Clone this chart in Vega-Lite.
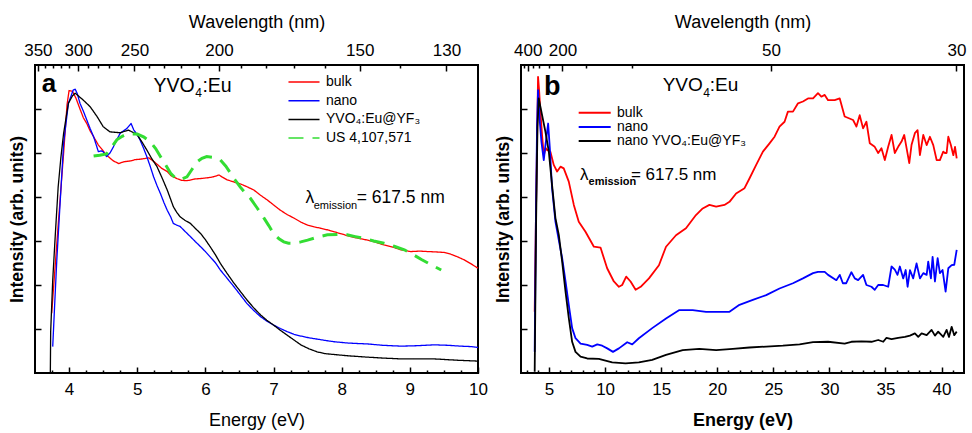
{
  "$schema": "https://vega.github.io/schema/vega-lite/v6.json",
  "padding": {"left": 7, "top": 12, "right": 0, "bottom": 0},
  "spacing": 4,
  "config": {
    "font": "Liberation Sans",
    "view": {"stroke": "black", "strokeWidth": 2},
    "axis": {"domain": false, "grid": false, "tickColor": "black", "tickWidth": 1.5, "labelColor": "black", "titleColor": "black", "labelFontSize": 17, "titleFontSize": 18, "titleFontWeight": "normal", "labelFlush": false, "labelOverlap": false},
    "legend": {"labelFontSize": 14, "labelColor": "black", "padding": 0}
  },
  "resolve": {"scale": {"color": "independent", "strokeDash": "independent"}},
  "hconcat": [
    {
      "width": 443, "height": 308,
      "resolve": {"axis": {"x": "independent"}},
      "layer": [
        {
          "layer": [
            {
              "data": {"values": [
                {"s":"bulk","E":3.745,"I":1.36},{"s":"bulk","E":3.84,"I":3.36},{"s":"bulk","E":3.92,"I":5.0},{"s":"bulk","E":3.97,"I":6.1},{"s":"bulk","E":4.0,"I":6.42},{"s":"bulk","E":4.05,"I":6.4},{"s":"bulk","E":4.1,"I":6.25},{"s":"bulk","E":4.16,"I":6.0},{"s":"bulk","E":4.21,"I":5.8},{"s":"bulk","E":4.26,"I":5.67},{"s":"bulk","E":4.31,"I":5.5},{"s":"bulk","E":4.36,"I":5.37},{"s":"bulk","E":4.43,"I":5.18},{"s":"bulk","E":4.5,"I":5.05},{"s":"bulk","E":4.55,"I":4.95},{"s":"bulk","E":4.65,"I":4.82},{"s":"bulk","E":4.73,"I":4.76},{"s":"bulk","E":4.8,"I":4.8},{"s":"bulk","E":4.9,"I":4.82},{"s":"bulk","E":4.97,"I":4.85},{"s":"bulk","E":5.05,"I":4.86},{"s":"bulk","E":5.17,"I":4.89},{"s":"bulk","E":5.25,"I":4.8},{"s":"bulk","E":5.36,"I":4.65},{"s":"bulk","E":5.44,"I":4.58},{"s":"bulk","E":5.5,"I":4.48},{"s":"bulk","E":5.58,"I":4.42},{"s":"bulk","E":5.65,"I":4.38},{"s":"bulk","E":5.73,"I":4.37},{"s":"bulk","E":5.85,"I":4.41},{"s":"bulk","E":5.93,"I":4.42},{"s":"bulk","E":6.05,"I":4.44},{"s":"bulk","E":6.12,"I":4.46},{"s":"bulk","E":6.2,"I":4.5},{"s":"bulk","E":6.25,"I":4.45},{"s":"bulk","E":6.32,"I":4.39},{"s":"bulk","E":6.42,"I":4.34},{"s":"bulk","E":6.51,"I":4.3},{"s":"bulk","E":6.6,"I":4.24},{"s":"bulk","E":6.71,"I":4.16},{"s":"bulk","E":6.8,"I":4.05},{"s":"bulk","E":6.91,"I":3.93},{"s":"bulk","E":7.0,"I":3.82},{"s":"bulk","E":7.1,"I":3.7},{"s":"bulk","E":7.2,"I":3.6},{"s":"bulk","E":7.3,"I":3.52},{"s":"bulk","E":7.4,"I":3.43},{"s":"bulk","E":7.5,"I":3.36},{"s":"bulk","E":7.6,"I":3.32},{"s":"bulk","E":7.69,"I":3.29},{"s":"bulk","E":7.8,"I":3.25},{"s":"bulk","E":7.89,"I":3.21},{"s":"bulk","E":8.0,"I":3.16},{"s":"bulk","E":8.13,"I":3.1},{"s":"bulk","E":8.25,"I":3.06},{"s":"bulk","E":8.38,"I":3.02},{"s":"bulk","E":8.5,"I":2.97},{"s":"bulk","E":8.62,"I":2.91},{"s":"bulk","E":8.75,"I":2.86},{"s":"bulk","E":8.87,"I":2.8},{"s":"bulk","E":9.01,"I":2.76},{"s":"bulk","E":9.15,"I":2.77},{"s":"bulk","E":9.26,"I":2.76},{"s":"bulk","E":9.4,"I":2.75},{"s":"bulk","E":9.5,"I":2.74},{"s":"bulk","E":9.6,"I":2.7},{"s":"bulk","E":9.7,"I":2.64},{"s":"bulk","E":9.8,"I":2.57},{"s":"bulk","E":9.9,"I":2.48},{"s":"bulk","E":10.0,"I":2.38},
                {"s":"nano","E":3.76,"I":0.6},{"s":"nano","E":3.79,"I":1.6},{"s":"nano","E":3.82,"I":2.57},{"s":"nano","E":3.87,"I":3.9},{"s":"nano","E":3.92,"I":5.22},{"s":"nano","E":3.99,"I":6.13},{"s":"nano","E":4.06,"I":6.43},{"s":"nano","E":4.09,"I":6.45},{"s":"nano","E":4.12,"I":6.35},{"s":"nano","E":4.16,"I":6.13},{"s":"nano","E":4.21,"I":5.95},{"s":"nano","E":4.26,"I":5.75},{"s":"nano","E":4.31,"I":5.55},{"s":"nano","E":4.36,"I":5.37},{"s":"nano","E":4.43,"I":5.03},{"s":"nano","E":4.47,"I":5.05},{"s":"nano","E":4.5,"I":5.03},{"s":"nano","E":4.55,"I":4.92},{"s":"nano","E":4.6,"I":5.0},{"s":"nano","E":4.65,"I":5.14},{"s":"nano","E":4.7,"I":5.3},{"s":"nano","E":4.75,"I":5.45},{"s":"nano","E":4.85,"I":5.56},{"s":"nano","E":4.91,"I":5.67},{"s":"nano","E":4.95,"I":5.52},{"s":"nano","E":5.0,"I":5.42},{"s":"nano","E":5.04,"I":5.3},{"s":"nano","E":5.09,"I":5.12},{"s":"nano","E":5.14,"I":4.92},{"s":"nano","E":5.19,"I":4.7},{"s":"nano","E":5.24,"I":4.46},{"s":"nano","E":5.29,"I":4.26},{"s":"nano","E":5.34,"I":4.08},{"s":"nano","E":5.39,"I":3.88},{"s":"nano","E":5.44,"I":3.7},{"s":"nano","E":5.49,"I":3.55},{"s":"nano","E":5.53,"I":3.4},{"s":"nano","E":5.58,"I":3.36},{"s":"nano","E":5.63,"I":3.33},{"s":"nano","E":5.7,"I":3.22},{"s":"nano","E":5.78,"I":3.1},{"s":"nano","E":5.85,"I":2.99},{"s":"nano","E":5.93,"I":2.87},{"s":"nano","E":6.0,"I":2.76},{"s":"nano","E":6.07,"I":2.64},{"s":"nano","E":6.15,"I":2.5},{"s":"nano","E":6.22,"I":2.34},{"s":"nano","E":6.32,"I":2.15},{"s":"nano","E":6.42,"I":1.96},{"s":"nano","E":6.52,"I":1.76},{"s":"nano","E":6.61,"I":1.58},{"s":"nano","E":6.71,"I":1.42},{"s":"nano","E":6.81,"I":1.28},{"s":"nano","E":6.9,"I":1.18},{"s":"nano","E":7.0,"I":1.09},{"s":"nano","E":7.1,"I":1.01},{"s":"nano","E":7.2,"I":0.94},{"s":"nano","E":7.3,"I":0.88},{"s":"nano","E":7.4,"I":0.84},{"s":"nano","E":7.52,"I":0.8},{"s":"nano","E":7.64,"I":0.77},{"s":"nano","E":7.76,"I":0.74},{"s":"nano","E":7.89,"I":0.71},{"s":"nano","E":8.1,"I":0.68},{"s":"nano","E":8.38,"I":0.66},{"s":"nano","E":8.6,"I":0.63},{"s":"nano","E":8.87,"I":0.61},{"s":"nano","E":9.1,"I":0.62},{"s":"nano","E":9.36,"I":0.64},{"s":"nano","E":9.55,"I":0.63},{"s":"nano","E":9.75,"I":0.61},{"s":"nano","E":9.9,"I":0.6},{"s":"nano","E":10.0,"I":0.58},
                {"s":"YVO₄:Eu@YF₃","E":3.725,"I":0.0},{"s":"YVO₄:Eu@YF₃","E":3.73,"I":0.94},{"s":"YVO₄:Eu@YF₃","E":3.76,"I":2.11},{"s":"YVO₄:Eu@YF₃","E":3.8,"I":3.2},{"s":"YVO₄:Eu@YF₃","E":3.84,"I":4.23},{"s":"YVO₄:Eu@YF₃","E":3.88,"I":4.9},{"s":"YVO₄:Eu@YF₃","E":3.92,"I":5.45},{"s":"YVO₄:Eu@YF₃","E":3.99,"I":6.13},{"s":"YVO₄:Eu@YF₃","E":4.05,"I":6.3},{"s":"YVO₄:Eu@YF₃","E":4.09,"I":6.36},{"s":"YVO₄:Eu@YF₃","E":4.15,"I":6.28},{"s":"YVO₄:Eu@YF₃","E":4.21,"I":6.2},{"s":"YVO₄:Eu@YF₃","E":4.31,"I":6.05},{"s":"YVO₄:Eu@YF₃","E":4.41,"I":5.83},{"s":"YVO₄:Eu@YF₃","E":4.5,"I":5.6},{"s":"YVO₄:Eu@YF₃","E":4.6,"I":5.48},{"s":"YVO₄:Eu@YF₃","E":4.68,"I":5.47},{"s":"YVO₄:Eu@YF₃","E":4.75,"I":5.46},{"s":"YVO₄:Eu@YF₃","E":4.87,"I":5.52},{"s":"YVO₄:Eu@YF₃","E":4.95,"I":5.46},{"s":"YVO₄:Eu@YF₃","E":5.0,"I":5.41},{"s":"YVO₄:Eu@YF₃","E":5.07,"I":5.25},{"s":"YVO₄:Eu@YF₃","E":5.14,"I":5.07},{"s":"YVO₄:Eu@YF₃","E":5.21,"I":4.88},{"s":"YVO₄:Eu@YF₃","E":5.29,"I":4.69},{"s":"YVO₄:Eu@YF₃","E":5.36,"I":4.45},{"s":"YVO₄:Eu@YF₃","E":5.44,"I":4.16},{"s":"YVO₄:Eu@YF₃","E":5.49,"I":3.95},{"s":"YVO₄:Eu@YF₃","E":5.53,"I":3.78},{"s":"YVO₄:Eu@YF₃","E":5.58,"I":3.65},{"s":"YVO₄:Eu@YF₃","E":5.63,"I":3.55},{"s":"YVO₄:Eu@YF₃","E":5.7,"I":3.47},{"s":"YVO₄:Eu@YF₃","E":5.78,"I":3.4},{"s":"YVO₄:Eu@YF₃","E":5.85,"I":3.29},{"s":"YVO₄:Eu@YF₃","E":5.93,"I":3.17},{"s":"YVO₄:Eu@YF₃","E":6.0,"I":3.03},{"s":"YVO₄:Eu@YF₃","E":6.07,"I":2.87},{"s":"YVO₄:Eu@YF₃","E":6.15,"I":2.68},{"s":"YVO₄:Eu@YF₃","E":6.22,"I":2.49},{"s":"YVO₄:Eu@YF₃","E":6.32,"I":2.26},{"s":"YVO₄:Eu@YF₃","E":6.42,"I":2.04},{"s":"YVO₄:Eu@YF₃","E":6.52,"I":1.84},{"s":"YVO₄:Eu@YF₃","E":6.61,"I":1.66},{"s":"YVO₄:Eu@YF₃","E":6.71,"I":1.48},{"s":"YVO₄:Eu@YF₃","E":6.81,"I":1.32},{"s":"YVO₄:Eu@YF₃","E":6.9,"I":1.2},{"s":"YVO₄:Eu@YF₃","E":7.0,"I":1.09},{"s":"YVO₄:Eu@YF₃","E":7.1,"I":0.97},{"s":"YVO₄:Eu@YF₃","E":7.2,"I":0.86},{"s":"YVO₄:Eu@YF₃","E":7.3,"I":0.75},{"s":"YVO₄:Eu@YF₃","E":7.4,"I":0.64},{"s":"YVO₄:Eu@YF₃","E":7.52,"I":0.55},{"s":"YVO₄:Eu@YF₃","E":7.64,"I":0.48},{"s":"YVO₄:Eu@YF₃","E":7.76,"I":0.44},{"s":"YVO₄:Eu@YF₃","E":7.89,"I":0.42},{"s":"YVO₄:Eu@YF₃","E":8.1,"I":0.39},{"s":"YVO₄:Eu@YF₃","E":8.38,"I":0.36},{"s":"YVO₄:Eu@YF₃","E":8.6,"I":0.34},{"s":"YVO₄:Eu@YF₃","E":8.87,"I":0.32},{"s":"YVO₄:Eu@YF₃","E":9.1,"I":0.32},{"s":"YVO₄:Eu@YF₃","E":9.36,"I":0.32},{"s":"YVO₄:Eu@YF₃","E":9.7,"I":0.29},{"s":"YVO₄:Eu@YF₃","E":10.0,"I":0.27}
              ]},
              "mark": {"type": "line", "strokeWidth": 1.3, "strokeJoin": "round"},
              "encoding": {
                "x": {"field": "E", "type": "quantitative", "scale": {"domain": [3.5, 10], "nice": false, "zero": false},
                      "axis": {"orient": "bottom", "values": [4,5,6,7,8,9,10], "format": "d", "tickSize": -6, "labelPadding": 14, "title": "Energy (eV)", "titlePadding": 14}},
                "y": {"field": "I", "type": "quantitative", "scale": {"domain": [0, 7], "nice": false},
                      "axis": {"orient": "left", "values": [1,2,3,4,5,6], "labels": false, "tickSize": -6, "title": "Intensity (arb. units)", "titleFontWeight": "bold", "titleFontSize": 17.5, "titlePadding": 8}},
                "color": {"field": "s", "type": "nominal",
                          "scale": {"domain": ["bulk","nano","YVO₄:Eu@YF₃","US 4,107,571"], "range": ["#ff0000","#0000ff","#000000","#33dd33"]},
                          "legend": {"orient": "none", "legendX": 262, "legendY": 10, "title": null, "symbolType": "M-3,0H3", "symbolSize": 107, "labelOffset": 15, "rowPadding": 4.7, "symbolStrokeWidth": 1.5}},
                "strokeDash": {"field": "s", "type": "nominal",
                          "scale": {"domain": ["bulk","nano","YVO₄:Eu@YF₃","US 4,107,571"], "range": [[1,0],[1,0],[1,0],[15,9]]},
                          "legend": {"orient": "none", "legendX": 262, "legendY": 10, "title": null, "symbolType": "M-3,0H3", "symbolSize": 107, "labelOffset": 15, "rowPadding": 4.7, "symbolStrokeWidth": 1.5}}
              }
            },
            {
              "data": {"values": [
                {"s":"US 4,107,571","E":4.36,"I":4.93},{"s":"US 4,107,571","E":4.45,"I":4.95},{"s":"US 4,107,571","E":4.55,"I":4.98},{"s":"US 4,107,571","E":4.62,"I":5.12},{"s":"US 4,107,571","E":4.7,"I":5.3},{"s":"US 4,107,571","E":4.78,"I":5.38},{"s":"US 4,107,571","E":4.85,"I":5.43},{"s":"US 4,107,571","E":5.0,"I":5.43},{"s":"US 4,107,571","E":5.1,"I":5.36},{"s":"US 4,107,571","E":5.19,"I":5.26},{"s":"US 4,107,571","E":5.27,"I":5.1},{"s":"US 4,107,571","E":5.34,"I":4.92},{"s":"US 4,107,571","E":5.42,"I":4.72},{"s":"US 4,107,571","E":5.49,"I":4.54},{"s":"US 4,107,571","E":5.56,"I":4.43},{"s":"US 4,107,571","E":5.63,"I":4.39},{"s":"US 4,107,571","E":5.73,"I":4.46},{"s":"US 4,107,571","E":5.8,"I":4.62},{"s":"US 4,107,571","E":5.88,"I":4.8},{"s":"US 4,107,571","E":5.95,"I":4.88},{"s":"US 4,107,571","E":6.02,"I":4.92},{"s":"US 4,107,571","E":6.12,"I":4.9},{"s":"US 4,107,571","E":6.22,"I":4.84},{"s":"US 4,107,571","E":6.3,"I":4.7},{"s":"US 4,107,571","E":6.37,"I":4.54},{"s":"US 4,107,571","E":6.44,"I":4.38},{"s":"US 4,107,571","E":6.51,"I":4.23},{"s":"US 4,107,571","E":6.58,"I":4.1},{"s":"US 4,107,571","E":6.66,"I":3.97},{"s":"US 4,107,571","E":6.76,"I":3.75},{"s":"US 4,107,571","E":6.86,"I":3.52},{"s":"US 4,107,571","E":6.93,"I":3.35},{"s":"US 4,107,571","E":7.0,"I":3.17},{"s":"US 4,107,571","E":7.08,"I":3.05},{"s":"US 4,107,571","E":7.15,"I":2.98},{"s":"US 4,107,571","E":7.22,"I":2.95},{"s":"US 4,107,571","E":7.3,"I":2.95},{"s":"US 4,107,571","E":7.4,"I":2.98},{"s":"US 4,107,571","E":7.5,"I":3.02},{"s":"US 4,107,571","E":7.65,"I":3.09},{"s":"US 4,107,571","E":7.79,"I":3.14},{"s":"US 4,107,571","E":7.94,"I":3.15},{"s":"US 4,107,571","E":8.08,"I":3.14},{"s":"US 4,107,571","E":8.2,"I":3.1},{"s":"US 4,107,571","E":8.33,"I":3.06},{"s":"US 4,107,571","E":8.47,"I":3.0},{"s":"US 4,107,571","E":8.62,"I":2.95},{"s":"US 4,107,571","E":8.77,"I":2.88},{"s":"US 4,107,571","E":8.92,"I":2.8},{"s":"US 4,107,571","E":9.05,"I":2.69},{"s":"US 4,107,571","E":9.17,"I":2.58},{"s":"US 4,107,571","E":9.3,"I":2.47},{"s":"US 4,107,571","E":9.46,"I":2.34}
              ]},
              "mark": {"type": "line", "strokeWidth": 3},
              "encoding": {
                "x": {"field": "E", "type": "quantitative", "scale": {"domain": [3.5, 10], "nice": false, "zero": false}},
                "y": {"field": "I", "type": "quantitative", "scale": {"domain": [0, 7], "nice": false}},
                "color": {"field": "s", "type": "nominal"},
                "strokeDash": {"field": "s", "type": "nominal"}
              }
            },
            {
              "data": {"values": [{"t": "YVO", "E": 5.24, "I": 6.39}, {"t": ":Eu", "E": 5.956, "I": 6.39}]},
              "mark": {"type": "text", "align": "left", "baseline": "alphabetic", "fontSize": 19.5, "color": "black"},
              "encoding": {"x": {"field": "E", "type": "quantitative"}, "y": {"field": "I", "type": "quantitative"}, "text": {"field": "t"}}
            },
            {
              "data": {"values": [{"t": "4", "E": 5.853, "I": 6.27}]},
              "mark": {"type": "text", "align": "left", "baseline": "alphabetic", "fontSize": 12, "color": "black"},
              "encoding": {"x": {"field": "E", "type": "quantitative"}, "y": {"field": "I", "type": "quantitative"}, "text": {"field": "t"}}
            },
            {
              "data": {"values": [{"t": "λ", "E": 7.47, "I": 3.86}, {"t": "= 617.5 nm", "E": 8.22, "I": 3.86}]},
              "mark": {"type": "text", "align": "left", "baseline": "alphabetic", "fontSize": 17.5, "color": "black"},
              "encoding": {"x": {"field": "E", "type": "quantitative"}, "y": {"field": "I", "type": "quantitative"}, "text": {"field": "t"}}
            },
            {
              "data": {"values": [{"t": "emission", "E": 7.59, "I": 3.73}]},
              "mark": {"type": "text", "align": "left", "baseline": "alphabetic", "fontSize": 11, "color": "black"},
              "encoding": {"x": {"field": "E", "type": "quantitative"}, "y": {"field": "I", "type": "quantitative"}, "text": {"field": "t"}}
            },
            {
              "data": {"values": [{"t": "a", "E": 3.6, "I": 6.38}]},
              "mark": {"type": "text", "align": "left", "baseline": "alphabetic", "fontSize": 26, "fontWeight": "bold", "color": "black"},
              "encoding": {"x": {"field": "E", "type": "quantitative"}, "y": {"field": "I", "type": "quantitative"}, "text": {"field": "t"}}
            }
          ]
        },
        {
          "data": {"values": [{}]},
          "mark": {"type": "point", "opacity": 0},
          "encoding": {"x": {"datum": 5, "type": "quantitative", "scale": {"domain": [3.5, 10], "nice": false, "zero": false},
            "axis": {"orient": "bottom", "values": [3.75,4.25,4.5,4.75,5.25,5.5,5.75,6.25,6.5,6.75,7.25,7.5,7.75,8.25,8.5,8.75,9.25,9.5,9.75], "tickSize": -3, "labels": false, "title": null}}}
        },
        {
          "data": {"values": [{}]},
          "mark": {"type": "point", "opacity": 0},
          "encoding": {"x": {"datum": 5, "type": "quantitative", "scale": {"domain": [3.5, 10], "nice": false, "zero": false},
            "axis": {"orient": "top", "values": [3.5424,4.1328,4.9594,6.1992,8.2656,9.5372], "labelExpr": "format(1239.84/datum.value, '.0f')", "tickSize": -6, "labelPadding": 12, "title": "Wavelength (nm)", "titlePadding": 10}}}
        },
        {
          "data": {"values": [{}]},
          "mark": {"type": "point", "opacity": 0},
          "encoding": {"x": {"datum": 5, "type": "quantitative", "scale": {"domain": [3.5, 10], "nice": false, "zero": false},
            "axis": {"orient": "top", "values": [3.6466,3.7571,3.8745,3.9995,4.2753,4.428,4.592,4.7686,5.166,5.3906,5.6356,5.904,6.5255,6.888,7.2932,7.749,8.856], "tickSize": -3, "labels": false, "title": null}}}
        }
      ]
    },
    {
      "width": 443, "height": 308,
      "resolve": {"axis": {"x": "independent"}},
      "layer": [
        {
          "layer": [
            {
              "data": {"values": [
                {"s":"bulk","E":3.72,"I":1.39},{"s":"bulk","E":3.85,"I":3.9},{"s":"bulk","E":4.02,"I":6.73},{"s":"bulk","E":4.12,"I":6.4},{"s":"bulk","E":4.23,"I":5.94},{"s":"bulk","E":4.38,"I":5.4},{"s":"bulk","E":4.53,"I":4.95},{"s":"bulk","E":4.7,"I":5.11},{"s":"bulk","E":4.82,"I":5.07},{"s":"bulk","E":5.12,"I":5.03},{"s":"bulk","E":5.42,"I":4.73},{"s":"bulk","E":5.72,"I":4.58},{"s":"bulk","E":6.02,"I":4.69},{"s":"bulk","E":6.31,"I":4.65},{"s":"bulk","E":6.76,"I":4.35},{"s":"bulk","E":7.21,"I":3.82},{"s":"bulk","E":7.65,"I":3.44},{"s":"bulk","E":8.25,"I":3.21},{"s":"bulk","E":9.0,"I":2.87},{"s":"bulk","E":9.59,"I":2.85},{"s":"bulk","E":10.18,"I":2.38},{"s":"bulk","E":10.78,"I":2.08},{"s":"bulk","E":11.23,"I":1.96},{"s":"bulk","E":11.52,"I":2.0},{"s":"bulk","E":11.88,"I":2.19},{"s":"bulk","E":12.27,"I":2.08},{"s":"bulk","E":12.72,"I":1.89},{"s":"bulk","E":13.17,"I":1.96},{"s":"bulk","E":13.91,"I":2.15},{"s":"bulk","E":14.8,"I":2.45},{"s":"bulk","E":15.43,"I":2.87},{"s":"bulk","E":16.32,"I":3.13},{"s":"bulk","E":17.21,"I":3.29},{"s":"bulk","E":18.1,"I":3.59},{"s":"bulk","E":18.7,"I":3.74},{"s":"bulk","E":19.3,"I":3.82},{"s":"bulk","E":19.9,"I":3.78},{"s":"bulk","E":20.64,"I":3.82},{"s":"bulk","E":21.09,"I":3.89},{"s":"bulk","E":21.68,"I":4.08},{"s":"bulk","E":22.43,"I":4.2},{"s":"bulk","E":22.87,"I":4.42},{"s":"bulk","E":23.47,"I":4.73},{"s":"bulk","E":24.07,"I":5.03},{"s":"bulk","E":24.66,"I":5.22},{"s":"bulk","E":25.11,"I":5.37},{"s":"bulk","E":25.55,"I":5.6},{"s":"bulk","E":26.0,"I":5.71},{"s":"bulk","E":26.3,"I":5.94},{"s":"bulk","E":26.75,"I":5.94},{"s":"bulk","E":27.2,"I":6.13},{"s":"bulk","E":27.64,"I":6.17},{"s":"bulk","E":28.09,"I":6.24},{"s":"bulk","E":28.54,"I":6.24},{"s":"bulk","E":28.98,"I":6.36},{"s":"bulk","E":29.28,"I":6.28},{"s":"bulk","E":29.58,"I":6.32},{"s":"bulk","E":29.88,"I":6.2},{"s":"bulk","E":30.47,"I":6.2},{"s":"bulk","E":30.92,"I":6.24},{"s":"bulk","E":31.36,"I":5.83},{"s":"bulk","E":32.11,"I":5.75},{"s":"bulk","E":32.41,"I":5.6},{"s":"bulk","E":32.7,"I":5.86},{"s":"bulk","E":33.0,"I":5.56},{"s":"bulk","E":33.3,"I":5.71},{"s":"bulk","E":33.6,"I":5.22},{"s":"bulk","E":34.04,"I":5.14},{"s":"bulk","E":34.35,"I":5.0},{"s":"bulk","E":34.64,"I":5.11},{"s":"bulk","E":34.94,"I":4.84},{"s":"bulk","E":35.24,"I":5.14},{"s":"bulk","E":35.54,"I":5.41},{"s":"bulk","E":35.83,"I":5.0},{"s":"bulk","E":36.13,"I":5.14},{"s":"bulk","E":36.43,"I":5.26},{"s":"bulk","E":36.67,"I":5.41},{"s":"bulk","E":36.88,"I":5.11},{"s":"bulk","E":37.12,"I":4.77},{"s":"bulk","E":37.32,"I":5.18},{"s":"bulk","E":37.62,"I":5.45},{"s":"bulk","E":37.86,"I":5.52},{"s":"bulk","E":38.07,"I":4.95},{"s":"bulk","E":38.37,"I":5.41},{"s":"bulk","E":38.67,"I":5.18},{"s":"bulk","E":38.96,"I":5.37},{"s":"bulk","E":39.26,"I":5.18},{"s":"bulk","E":39.56,"I":4.84},{"s":"bulk","E":39.85,"I":4.84},{"s":"bulk","E":40.15,"I":5.03},{"s":"bulk","E":40.3,"I":5.0},{"s":"bulk","E":40.45,"I":5.0},{"s":"bulk","E":40.6,"I":5.37},{"s":"bulk","E":40.83,"I":5.18},{"s":"bulk","E":41.05,"I":4.95},{"s":"bulk","E":41.2,"I":5.14},{"s":"bulk","E":41.35,"I":4.88},
                {"s":"nano","E":3.72,"I":0.48},{"s":"nano","E":3.82,"I":3.3},{"s":"nano","E":3.93,"I":5.6},{"s":"nano","E":4.02,"I":6.43},{"s":"nano","E":4.15,"I":5.8},{"s":"nano","E":4.32,"I":5.26},{"s":"nano","E":4.53,"I":4.84},{"s":"nano","E":4.68,"I":5.18},{"s":"nano","E":4.92,"I":5.67},{"s":"nano","E":5.07,"I":5.11},{"s":"nano","E":5.27,"I":4.2},{"s":"nano","E":5.57,"I":3.44},{"s":"nano","E":5.87,"I":3.02},{"s":"nano","E":6.17,"I":2.61},{"s":"nano","E":6.47,"I":2.08},{"s":"nano","E":6.76,"I":1.55},{"s":"nano","E":7.06,"I":1.02},{"s":"nano","E":7.36,"I":0.79},{"s":"nano","E":7.81,"I":0.67},{"s":"nano","E":8.4,"I":0.64},{"s":"nano","E":8.85,"I":0.6},{"s":"nano","E":9.3,"I":0.65},{"s":"nano","E":9.74,"I":0.62},{"s":"nano","E":10.19,"I":0.56},{"s":"nano","E":10.7,"I":0.48},{"s":"nano","E":11.23,"I":0.56},{"s":"nano","E":11.97,"I":0.7},{"s":"nano","E":12.42,"I":0.65},{"s":"nano","E":13.01,"I":0.79},{"s":"nano","E":14.2,"I":1.02},{"s":"nano","E":15.43,"I":1.24},{"s":"nano","E":16.62,"I":1.43},{"s":"nano","E":17.81,"I":1.43},{"s":"nano","E":19.0,"I":1.39},{"s":"nano","E":20.2,"I":1.39},{"s":"nano","E":21.09,"I":1.39},{"s":"nano","E":21.98,"I":1.55},{"s":"nano","E":23.17,"I":1.66},{"s":"nano","E":24.36,"I":1.77},{"s":"nano","E":25.55,"I":1.92},{"s":"nano","E":26.75,"I":2.04},{"s":"nano","E":27.64,"I":2.15},{"s":"nano","E":28.54,"I":2.27},{"s":"nano","E":28.98,"I":2.3},{"s":"nano","E":29.58,"I":2.3},{"s":"nano","E":29.88,"I":2.23},{"s":"nano","E":30.62,"I":2.11},{"s":"nano","E":30.92,"I":2.23},{"s":"nano","E":31.2,"I":2.04},{"s":"nano","E":31.5,"I":2.04},{"s":"nano","E":31.96,"I":2.29},{"s":"nano","E":32.26,"I":2.15},{"s":"nano","E":32.56,"I":2.11},{"s":"nano","E":33.0,"I":2.23},{"s":"nano","E":33.3,"I":2.0},{"s":"nano","E":33.75,"I":1.96},{"s":"nano","E":34.04,"I":1.89},{"s":"nano","E":34.35,"I":2.0},{"s":"nano","E":34.79,"I":2.0},{"s":"nano","E":35.24,"I":1.96},{"s":"nano","E":35.54,"I":2.42},{"s":"nano","E":35.83,"I":2.35},{"s":"nano","E":36.07,"I":2.23},{"s":"nano","E":36.28,"I":2.42},{"s":"nano","E":36.58,"I":2.15},{"s":"nano","E":36.8,"I":2.34},{"s":"nano","E":36.97,"I":1.96},{"s":"nano","E":37.18,"I":2.34},{"s":"nano","E":37.47,"I":2.15},{"s":"nano","E":37.77,"I":2.49},{"s":"nano","E":38.07,"I":2.15},{"s":"nano","E":38.37,"I":2.27},{"s":"nano","E":38.67,"I":2.23},{"s":"nano","E":38.81,"I":2.53},{"s":"nano","E":39.05,"I":2.15},{"s":"nano","E":39.2,"I":2.64},{"s":"nano","E":39.41,"I":2.08},{"s":"nano","E":39.65,"I":2.61},{"s":"nano","E":39.85,"I":2.27},{"s":"nano","E":40.09,"I":2.34},{"s":"nano","E":40.36,"I":1.85},{"s":"nano","E":40.6,"I":2.38},{"s":"nano","E":40.9,"I":2.45},{"s":"nano","E":41.13,"I":2.46},{"s":"nano","E":41.35,"I":2.8},
                {"s":"nano YVO₄:Eu@YF₃","E":3.72,"I":0.03},{"s":"nano YVO₄:Eu@YF₃","E":3.85,"I":3.5},{"s":"nano YVO₄:Eu@YF₃","E":3.97,"I":5.6},{"s":"nano YVO₄:Eu@YF₃","E":4.08,"I":6.24},{"s":"nano YVO₄:Eu@YF₃","E":4.38,"I":5.86},{"s":"nano YVO₄:Eu@YF₃","E":4.68,"I":5.48},{"s":"nano YVO₄:Eu@YF₃","E":4.98,"I":5.03},{"s":"nano YVO₄:Eu@YF₃","E":5.27,"I":4.27},{"s":"nano YVO₄:Eu@YF₃","E":5.57,"I":3.52},{"s":"nano YVO₄:Eu@YF₃","E":5.87,"I":3.14},{"s":"nano YVO₄:Eu@YF₃","E":6.17,"I":2.53},{"s":"nano YVO₄:Eu@YF₃","E":6.47,"I":1.85},{"s":"nano YVO₄:Eu@YF₃","E":6.76,"I":1.25},{"s":"nano YVO₄:Eu@YF₃","E":7.06,"I":0.71},{"s":"nano YVO₄:Eu@YF₃","E":7.36,"I":0.48},{"s":"nano YVO₄:Eu@YF₃","E":7.81,"I":0.37},{"s":"nano YVO₄:Eu@YF₃","E":8.4,"I":0.33},{"s":"nano YVO₄:Eu@YF₃","E":9.44,"I":0.32},{"s":"nano YVO₄:Eu@YF₃","E":10.63,"I":0.24},{"s":"nano YVO₄:Eu@YF₃","E":11.82,"I":0.22},{"s":"nano YVO₄:Eu@YF₃","E":13.01,"I":0.24},{"s":"nano YVO₄:Eu@YF₃","E":14.2,"I":0.3},{"s":"nano YVO₄:Eu@YF₃","E":15.43,"I":0.41},{"s":"nano YVO₄:Eu@YF₃","E":16.92,"I":0.52},{"s":"nano YVO₄:Eu@YF₃","E":18.4,"I":0.55},{"s":"nano YVO₄:Eu@YF₃","E":19.9,"I":0.52},{"s":"nano YVO₄:Eu@YF₃","E":21.39,"I":0.55},{"s":"nano YVO₄:Eu@YF₃","E":22.87,"I":0.58},{"s":"nano YVO₄:Eu@YF₃","E":24.36,"I":0.6},{"s":"nano YVO₄:Eu@YF₃","E":25.85,"I":0.62},{"s":"nano YVO₄:Eu@YF₃","E":27.34,"I":0.65},{"s":"nano YVO₄:Eu@YF₃","E":28.54,"I":0.7},{"s":"nano YVO₄:Eu@YF₃","E":29.88,"I":0.71},{"s":"nano YVO₄:Eu@YF₃","E":31.36,"I":0.67},{"s":"nano YVO₄:Eu@YF₃","E":31.96,"I":0.71},{"s":"nano YVO₄:Eu@YF₃","E":32.86,"I":0.72},{"s":"nano YVO₄:Eu@YF₃","E":33.75,"I":0.71},{"s":"nano YVO₄:Eu@YF₃","E":34.35,"I":0.75},{"s":"nano YVO₄:Eu@YF₃","E":34.8,"I":0.71},{"s":"nano YVO₄:Eu@YF₃","E":35.09,"I":0.8},{"s":"nano YVO₄:Eu@YF₃","E":35.54,"I":0.77},{"s":"nano YVO₄:Eu@YF₃","E":36.13,"I":0.8},{"s":"nano YVO₄:Eu@YF₃","E":36.73,"I":0.82},{"s":"nano YVO₄:Eu@YF₃","E":37.18,"I":0.85},{"s":"nano YVO₄:Eu@YF₃","E":37.62,"I":0.9},{"s":"nano YVO₄:Eu@YF₃","E":37.92,"I":0.82},{"s":"nano YVO₄:Eu@YF₃","E":38.22,"I":0.9},{"s":"nano YVO₄:Eu@YF₃","E":38.67,"I":0.86},{"s":"nano YVO₄:Eu@YF₃","E":39.11,"I":0.98},{"s":"nano YVO₄:Eu@YF₃","E":39.41,"I":0.85},{"s":"nano YVO₄:Eu@YF₃","E":39.7,"I":0.94},{"s":"nano YVO₄:Eu@YF₃","E":40.15,"I":0.82},{"s":"nano YVO₄:Eu@YF₃","E":40.45,"I":0.98},{"s":"nano YVO₄:Eu@YF₃","E":40.66,"I":0.82},{"s":"nano YVO₄:Eu@YF₃","E":40.9,"I":1.05},{"s":"nano YVO₄:Eu@YF₃","E":41.13,"I":0.86},{"s":"nano YVO₄:Eu@YF₃","E":41.35,"I":0.94}
              ]},
              "mark": {"type": "line", "strokeWidth": 1.8, "strokeJoin": "round"},
              "encoding": {
                "x": {"field": "E", "type": "quantitative", "scale": {"domain": [2.5, 42], "nice": false, "zero": false},
                      "axis": {"orient": "bottom", "values": [5,10,15,20,25,30,35,40], "format": "d", "tickSize": -6, "labelPadding": 14, "title": "Energy (eV)", "titleFontWeight": "bold", "titlePadding": 14}},
                "y": {"field": "I", "type": "quantitative", "scale": {"domain": [0, 7], "nice": false},
                      "axis": {"orient": "left", "values": [1,2,3,4,5,6], "labels": false, "tickSize": -6, "title": "Intensity (arb. units)", "titleFontWeight": "bold", "titleFontSize": 17.5, "titlePadding": 8}},
                "color": {"field": "s", "type": "nominal",
                          "scale": {"domain": ["bulk","nano","nano YVO₄:Eu@YF₃"], "range": ["#ff0000","#0000ff","#000000"]},
                          "legend": {"orient": "none", "legendX": 66.7, "legendY": 40.7, "title": null, "symbolType": "M-3,0H3", "symbolSize": 114, "labelOffset": 15.3, "rowPadding": 0.2, "symbolStrokeWidth": 2}}
              }
            },
            {
              "data": {"values": [{"t": "YVO", "E": 15.13, "I": 6.42}, {"t": ":Eu", "E": 19.33, "I": 6.42}]},
              "mark": {"type": "text", "align": "left", "baseline": "alphabetic", "fontSize": 19, "color": "black"},
              "encoding": {"x": {"field": "E", "type": "quantitative"}, "y": {"field": "I", "type": "quantitative"}, "text": {"field": "t"}}
            },
            {
              "data": {"values": [{"t": "4", "E": 18.74, "I": 6.27}]},
              "mark": {"type": "text", "align": "left", "baseline": "alphabetic", "fontSize": 12, "color": "black"},
              "encoding": {"x": {"field": "E", "type": "quantitative"}, "y": {"field": "I", "type": "quantitative"}, "text": {"field": "t"}}
            },
            {
              "data": {"values": [{"t": "λ", "E": 7.77, "I": 4.386}, {"t": "= 617.5 nm", "E": 12.3, "I": 4.386}]},
              "mark": {"type": "text", "align": "left", "baseline": "alphabetic", "fontSize": 17, "color": "black"},
              "encoding": {"x": {"field": "E", "type": "quantitative"}, "y": {"field": "I", "type": "quantitative"}, "text": {"field": "t"}}
            },
            {
              "data": {"values": [{"t": "emission", "E": 8.52, "I": 4.27}]},
              "mark": {"type": "text", "align": "left", "baseline": "alphabetic", "fontSize": 11, "fontWeight": "bold", "color": "black"},
              "encoding": {"x": {"field": "E", "type": "quantitative"}, "y": {"field": "I", "type": "quantitative"}, "text": {"field": "t"}}
            },
            {
              "data": {"values": [{"t": "b", "E": 4.55, "I": 6.32}]},
              "mark": {"type": "text", "align": "left", "baseline": "alphabetic", "fontSize": 27, "fontWeight": "bold", "color": "black"},
              "encoding": {"x": {"field": "E", "type": "quantitative"}, "y": {"field": "I", "type": "quantitative"}, "text": {"field": "t"}}
            }
          ]
        },
        {
          "data": {"values": [{}]},
          "mark": {"type": "point", "opacity": 0},
          "encoding": {"x": {"datum": 10, "type": "quantitative", "scale": {"domain": [2.5, 42], "nice": false, "zero": false},
            "axis": {"orient": "bottom", "values": [3,4,6,7,8,9,11,12,13,14,16,17,18,19,21,22,23,24,26,27,28,29,31,32,33,34,36,37,38,39,41], "tickSize": -3, "labels": false, "title": null}}}
        },
        {
          "data": {"values": [{}]},
          "mark": {"type": "point", "opacity": 0},
          "encoding": {"x": {"datum": 10, "type": "quantitative", "scale": {"domain": [2.5, 42], "nice": false, "zero": false},
            "axis": {"orient": "top", "values": [3.0996,6.1992,24.7968,41.328], "labelExpr": "format(1239.84/datum.value, '.0f')", "tickSize": -6, "labelPadding": 12, "title": "Wavelength (nm)", "titlePadding": 10}}}
        },
        {
          "data": {"values": [{}]},
          "mark": {"type": "point", "opacity": 0},
          "encoding": {"x": {"datum": 10, "type": "quantitative", "scale": {"domain": [2.5, 42], "nice": false, "zero": false},
            "axis": {"orient": "top", "values": [2.7552,3.5424,4.1328,4.9594,8.2656,12.3984], "tickSize": -3, "labels": false, "title": null}}}
        }
      ]
    }
  ]
}
